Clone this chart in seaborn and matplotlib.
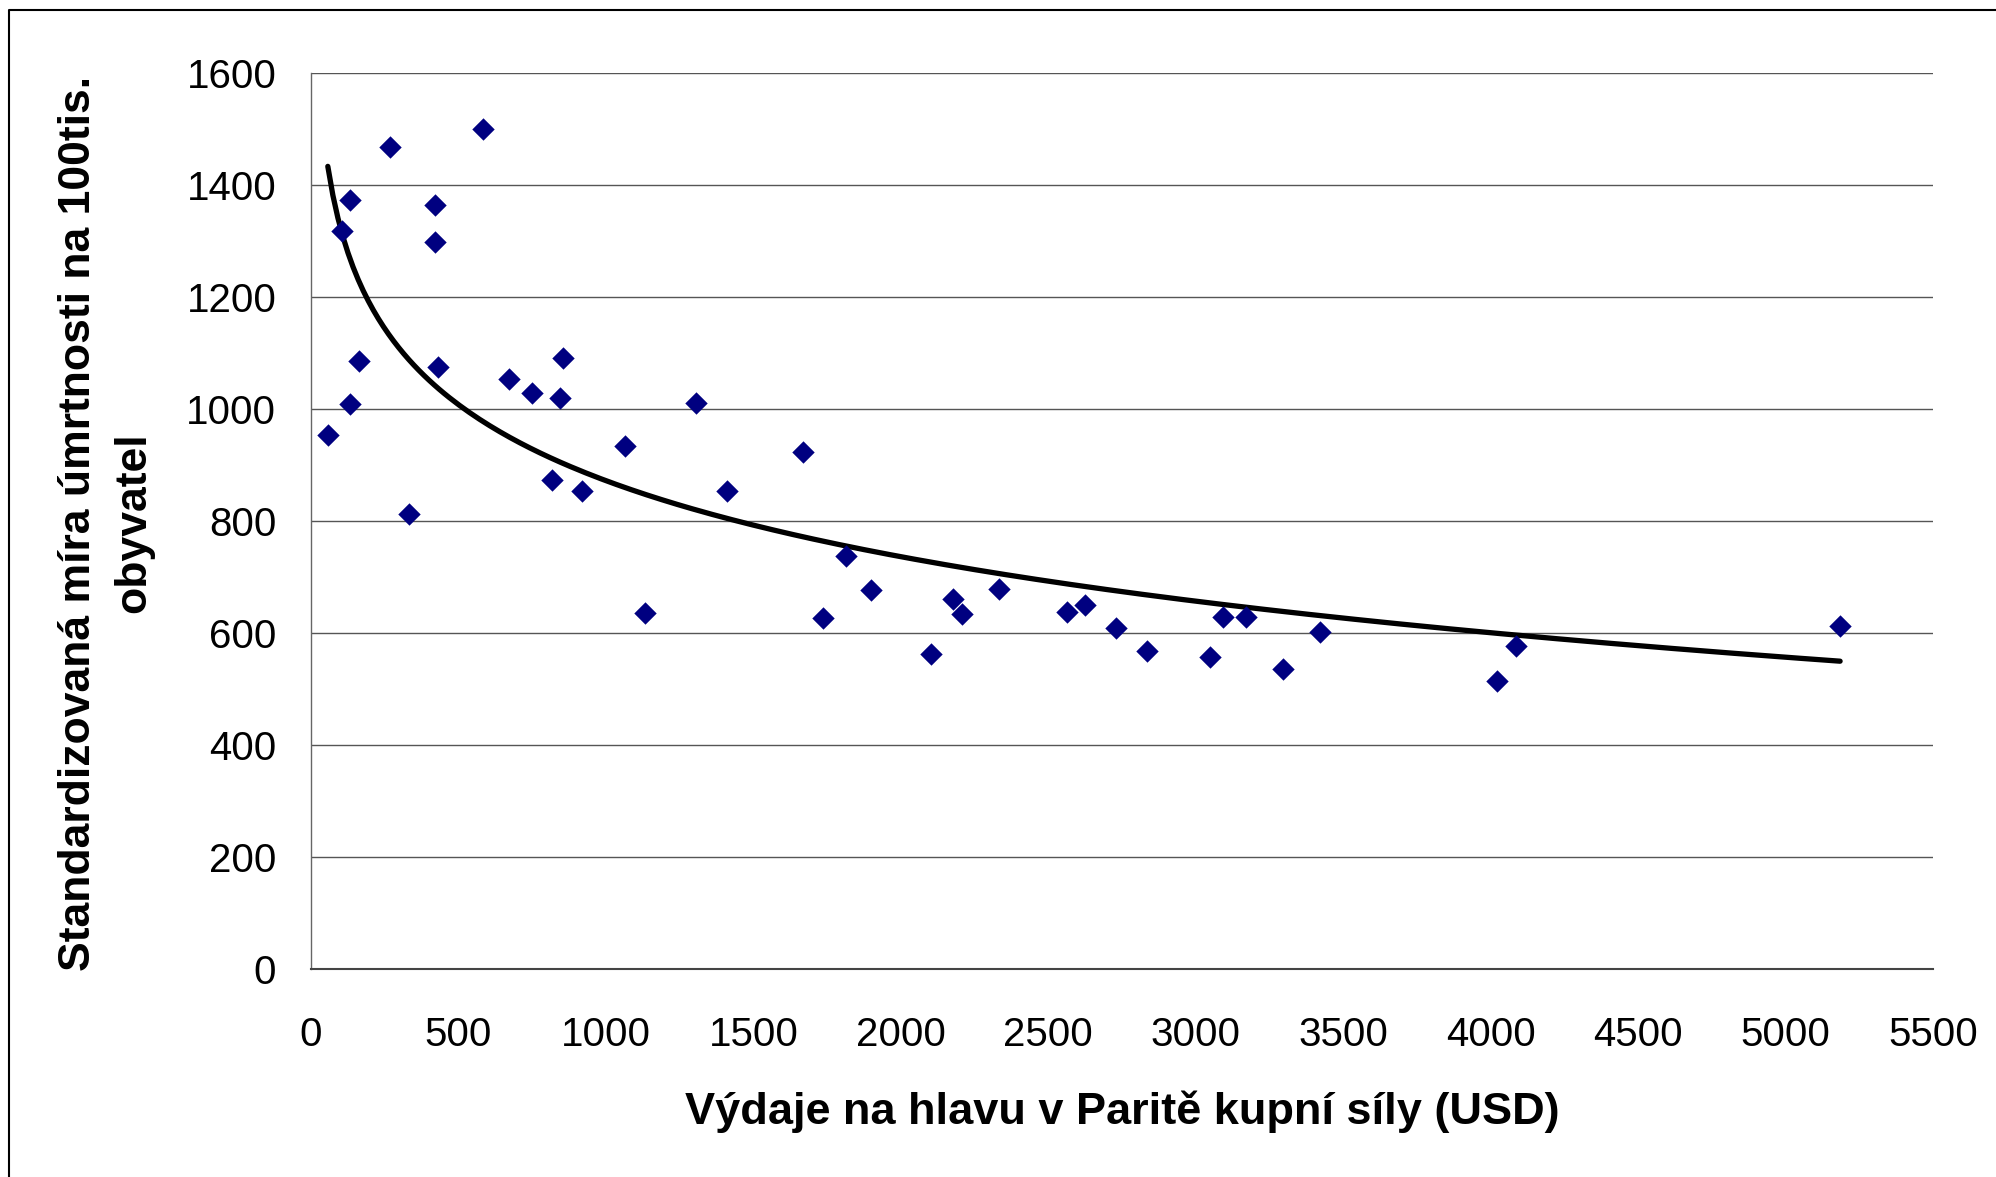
import matplotlib
matplotlib.use("Agg")
import matplotlib.pyplot as plt
import seaborn as sns
import numpy as np
from matplotlib.lines import Line2D

# spending per head (PPP, USD) and standardized mortality per 100k
spending = [57, 104, 133, 133, 163, 268, 334, 422, 422, 431,
            584, 670, 748, 816, 844, 853, 920, 1064, 1133, 1306,
            1410, 1669, 1735, 1813, 1899, 2102, 2178, 2208, 2333, 2564,
            2623, 2730, 2835, 3047, 3094, 3172, 3296, 3423, 4020, 4086,
            5185]
mortality = [953, 1317, 1373, 1009, 1085, 1468, 813, 1363, 1297, 1075,
             1499, 1054, 1029, 873, 1019, 1090, 853, 934, 636, 1010,
             853, 923, 626, 737, 677, 563, 660, 633, 679, 638,
             650, 608, 567, 557, 628, 628, 536, 602, 515, 576,
             613]

x_ticks = [0, 500, 1000, 1500, 2000, 2500, 3000, 3500, 4000, 4500, 5000, 5500]
y_ticks = [0, 200, 400, 600, 800, 1000, 1200, 1400, 1600]

x_label = "Výdaje na hlavu v Paritě kupní síly (USD)"
y_label = "Standardizovaná míra úmrtnosti na 100tis.\nobyvatel"

sns.set_style("white")
plt.rcParams['font.family'] = ['Liberation Sans', 'DejaVu Sans']
plt.rcParams['text.color'] = 'black'
plt.rcParams['axes.labelcolor'] = 'black'
plt.rcParams['xtick.color'] = 'black'
plt.rcParams['ytick.color'] = 'black'

fig = plt.figure(figsize=(19.96, 11.77), dpi=100)
ax = fig.add_axes([311/1996, 1 - 969/1177, (1933 - 311)/1996, (969 - 72.7)/1177])

# logarithmic trend line (least squares on ln x), like Excel's
b, a = np.polyfit(np.log(spending), mortality, 1)
xs = np.linspace(min(spending), max(spending), 300)
sns.lineplot(x=xs, y=a + b*np.log(xs), color="black", lw=3.8, ax=ax, zorder=2)

sns.scatterplot(x=spending, y=mortality, marker="D", color="#000080",
                s=130, linewidth=0, ax=ax, zorder=3)

ax.set_xlim(0, 5500)
ax.set_ylim(0, 1600)
ax.set_xticks(x_ticks)
ax.set_yticks(y_ticks)
ax.yaxis.grid(True, color="#555555", lw=1.0)
ax.set_axisbelow(True)
for s in ['top', 'right']:
    ax.spines[s].set_visible(False)
ax.spines['left'].set_color("#666666")
ax.spines['bottom'].set_color("#444444")
ax.spines['left'].set_linewidth(1.0)
ax.spines['bottom'].set_linewidth(1.5)
ax.tick_params(axis='x', direction='inout', length=20, width=1, color="#333333",
               labelsize=29, pad=24)
ax.tick_params(axis='y', direction='inout', length=20, width=1, color="#333333",
               labelsize=29, pad=15)

ax.set_xlabel(x_label, fontsize=32.5, fontweight="bold", labelpad=26)
fig.text(106/1996, 1 - 523/1177, y_label, rotation=90, ha="center", va="center",
         multialignment="center", fontsize=32, fontweight="bold", linespacing=1.45)

# outer chart border (only left and top visible)
fig.add_artist(Line2D([9/1996, 9/1996, 1.0], [0.0, 1 - 10/1177, 1 - 10/1177],
                      transform=fig.transFigure, color="black", lw=1.5))

fig.savefig("out.png", dpi=100)
